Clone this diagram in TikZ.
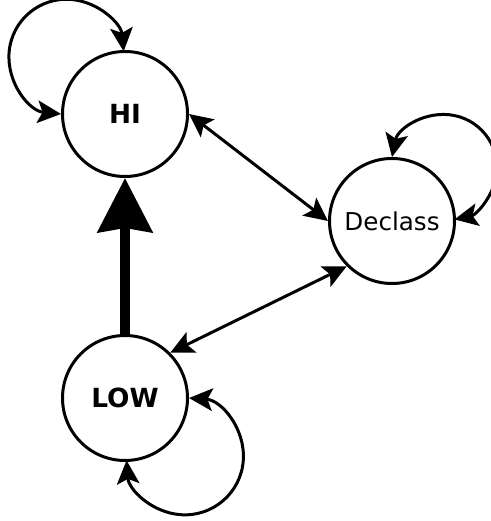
\documentclass[tikz,border=0pt]{standalone}
\usepackage{fontspec}
\setmainfont{DejaVu Sans}
\usetikzlibrary{arrows.meta}

\begin{document}
\begin{tikzpicture}[
  >={Stealth[length=4.7mm, width=4.5mm, inset=1mm]},
  state/.style={circle, draw=black, line width=1.7pt, minimum size=25mm, inner sep=0pt, font=\fontsize{14}{16}\selectfont},
  level/.style={state, font=\fontsize{15}{17}\selectfont\bfseries},
  edge/.style={<->, line width=1.7pt},
  flow/.style={-{Stealth[length=10.8mm, width=10.8mm, inset=0.8mm]}, line width=5.7pt},
]
\useasboundingbox (0,0) rectangle (9.82,10.42);
\node[level] (hi) at (2.50,8.14) {HI};
\node[state] (dec) at (7.84,6.00) {Declass};
\node[level] (low) at (2.50,2.46) {LOW};
% self loops
\draw[edge] (hi.west) arc[start angle=-95.4, end angle=-354.6, radius=1.15];
\draw[edge] (dec.north) arc[start angle=168.6, end angle=-78.6, radius=1.06];
\draw[edge] (low.east) arc[start angle=86, end angle=-176, radius=1.17];
% transitions
\draw[edge] (hi.east) -- (dec.west);
\draw[edge] (low.north east) -- (dec.south west);
\draw[flow] (low.north) -- (hi.south);
\end{tikzpicture}
\end{document}
